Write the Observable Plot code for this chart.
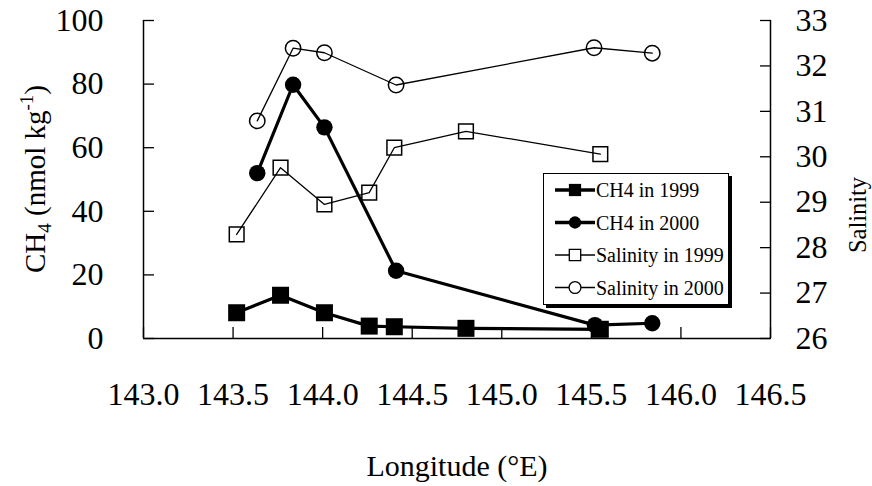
<!DOCTYPE html>
<html>
<head>
<meta charset="utf-8">
<script src="https://cdn.jsdelivr.net/npm/d3@7"></script>
<script src="https://cdn.jsdelivr.net/npm/@observablehq/plot@0.6"></script>
<style>
  body { margin: 0; background: #fff; }
  #chart { position: relative; width: 872px; height: 486px; }
  #chart svg text { font-family: "Liberation Serif", "DejaVu Serif", serif !important; font-variant-numeric: normal !important; }
  #legend {
    position: absolute; left: 543px; top: 173px; width: 184px; height: 130px;
    background: #fff; border: 1.5px solid #000; box-shadow: 3px 3px 0 #000;
  }
</style>
</head>
<body>
<div id="chart"></div>
<script>
// Dissolved methane and surface salinity along the transect (longitude, °E)
const ch4Lon1999 = [143.52, 143.765, 144.01, 144.26, 144.40, 144.80, 145.55];
const ch4Val1999 = [8.1, 13.6, 8.1, 3.9, 3.7, 3.2, 2.9];
const ch4Lon2000 = [143.635, 143.835, 144.01, 144.41, 145.52, 145.84];
const ch4Val2000 = [52.0, 79.8, 66.4, 21.3, 4.2, 4.8];
const salLon1999 = [143.52, 143.765, 144.01, 144.26, 144.40, 144.80, 145.55];
const salVal1999 = [28.29, 29.76, 28.95, 29.21, 30.20, 30.56, 30.06];
const salLon2000 = [143.635, 143.835, 144.01, 144.41, 145.515, 145.84];
const salVal2000 = [30.79, 32.39, 32.29, 31.58, 32.40, 32.28];

const lonTicks = [143.0, 143.5, 144.0, 144.5, 145.0, 145.5, 146.0, 146.5];
const ch4Ticks = [0, 20, 40, 60, 80, 100];
const salTicks = [26, 27, 28, 29, 30, 31, 32, 33];
const seriesNames = ["CH4 in 1999", "CH4 in 2000", "Salinity in 1999", "Salinity in 2000"];

// Salinity shares the CH4 y scale: 26–33 maps onto 0–100
const salMin = 26, salMax = 33;
const salToY = s => (s - salMin) * 100 / (salMax - salMin);
const yToSal = y => salMin + y * (salMax - salMin) / 100;

const pts = (lon, val, f = v => v) => lon.map((x, i) => ({x, y: f(val[i])}));
const ch499 = pts(ch4Lon1999, ch4Val1999);
const ch400 = pts(ch4Lon2000, ch4Val2000);
const sal99 = pts(salLon1999, salVal1999, salToY);
const sal00 = pts(salLon2000, salVal2000, salToY);

const FONT = "Liberation Serif";
const axisText = {fontSize: 32, fontFamily: FONT, fontVariant: "normal", label: null, strokeWidth: 1.3};

const plot = Plot.plot({
  width: 872,
  height: 486,
  marginLeft: 143,
  marginRight: 102,
  marginTop: 20,
  marginBottom: 148,
  style: {fontFamily: FONT, fontSize: "32px", color: "#000", background: "#fff"},
  x: {domain: [143, 146.5]},
  y: {domain: [0, 100]},
  marks: [
    Plot.axisX(lonTicks, {...axisText, tickSize: -11, tickPadding: 55, tickFormat: d3.format(".1f")}),
    Plot.axisY(ch4Ticks, {...axisText, anchor: "left", tickSize: -11, tickPadding: 51}),
    Plot.axisY(salTicks.map(salToY), {...axisText, anchor: "right", tickSize: -11, tickPadding: 36,
      tickFormat: d => String(Math.round(yToSal(d)))}),
    Plot.ruleX([143], {stroke: "#000", strokeWidth: 1.5}),
    Plot.ruleX([146.5], {stroke: "#000", strokeWidth: 1.5}),
    Plot.ruleY([0], {stroke: "#000", strokeWidth: 1.5}),

    // Salinity (thin lines, open markers)
    Plot.line(sal99, {x: "x", y: "y", stroke: "#000", strokeWidth: 1.3}),
    Plot.dot(sal99, {x: "x", y: "y", symbol: "square", r: 8.3, stroke: "#000", strokeWidth: 1.5, fill: "none"}),
    Plot.line(sal00, {x: "x", y: "y", stroke: "#000", strokeWidth: 1.3}),
    Plot.dot(sal00, {x: "x", y: "y", symbol: "circle", r: 7.7, stroke: "#000", strokeWidth: 1.5, fill: "none"}),

    // CH4 (thick lines, filled markers)
    Plot.line(ch499, {x: "x", y: "y", stroke: "#000", strokeWidth: 3.2}),
    Plot.dot(ch499, {x: "x", y: "y", symbol: "square", r: 9.6, fill: "#000", stroke: "none"}),
    Plot.line(ch400, {x: "x", y: "y", stroke: "#000", strokeWidth: 3.2}),
    Plot.dot(ch400, {x: "x", y: "y", symbol: "circle", r: 8.2, fill: "#000", stroke: "none"})
  ]
});

const chart = document.getElementById("chart");
chart.appendChild(plot);

// Axis titles
const svg = d3.select(plot);
const yTitle = svg.append("text")
  .attr("transform", "translate(45,179) rotate(-90)")
  .attr("text-anchor", "middle")
  .attr("font-size", 29)
  .attr("fill", "#000");
yTitle.append("tspan").text("CH");
yTitle.append("tspan").attr("font-size", 19).attr("dy", 6).text("4");
yTitle.append("tspan").attr("dy", -6).text(" (nmol kg");
yTitle.append("tspan").attr("font-size", 19).attr("dy", -12).text("-1");
yTitle.append("tspan").attr("dy", 12).text(")");

svg.append("text")
  .attr("transform", "translate(866,215) rotate(-90)")
  .attr("text-anchor", "middle")
  .attr("font-size", 24.5)
  .attr("fill", "#000")
  .text("Salinity");

svg.append("text")
  .attr("x", 457)
  .attr("y", 476)
  .attr("text-anchor", "middle")
  .attr("font-size", 30)
  .attr("fill", "#000")
  .text("Longitude (°E)");

// Legend box
const legend = d3.select(chart).append("div").attr("id", "legend");
const lsvg = legend.append("svg").attr("width", 184).attr("height", 130);
const styles = [
  {shape: d3.symbolSquare, area: 150, fill: "#000", width: 3.6},
  {shape: d3.symbolCircle, area: 120, fill: "#000", width: 3.6},
  {shape: d3.symbolSquare, area: 130, fill: "none", width: 1.3},
  {shape: d3.symbolCircle, area: 110, fill: "none", width: 1.3}
];
seriesNames.forEach((name, i) => {
  const s = styles[i];
  const cy = 16 + i * 32.5;
  const g = lsvg.append("g").attr("transform", `translate(0,${cy})`);
  g.append("line").attr("x1", 11).attr("x2", 51).attr("stroke", "#000").attr("stroke-width", s.width);
  g.append("path").attr("transform", "translate(31,0)")
    .attr("d", d3.symbol(s.shape, s.area)())
    .attr("fill", s.fill === "none" ? "#fff" : s.fill)
    .attr("stroke", "#000").attr("stroke-width", s.fill === "none" ? 1.3 : 0);
  g.append("text").attr("x", 52).attr("y", 7)
    .attr("font-size", 20).attr("fill", "#000")
    .text(name);
});
</script>
</body>
</html>
